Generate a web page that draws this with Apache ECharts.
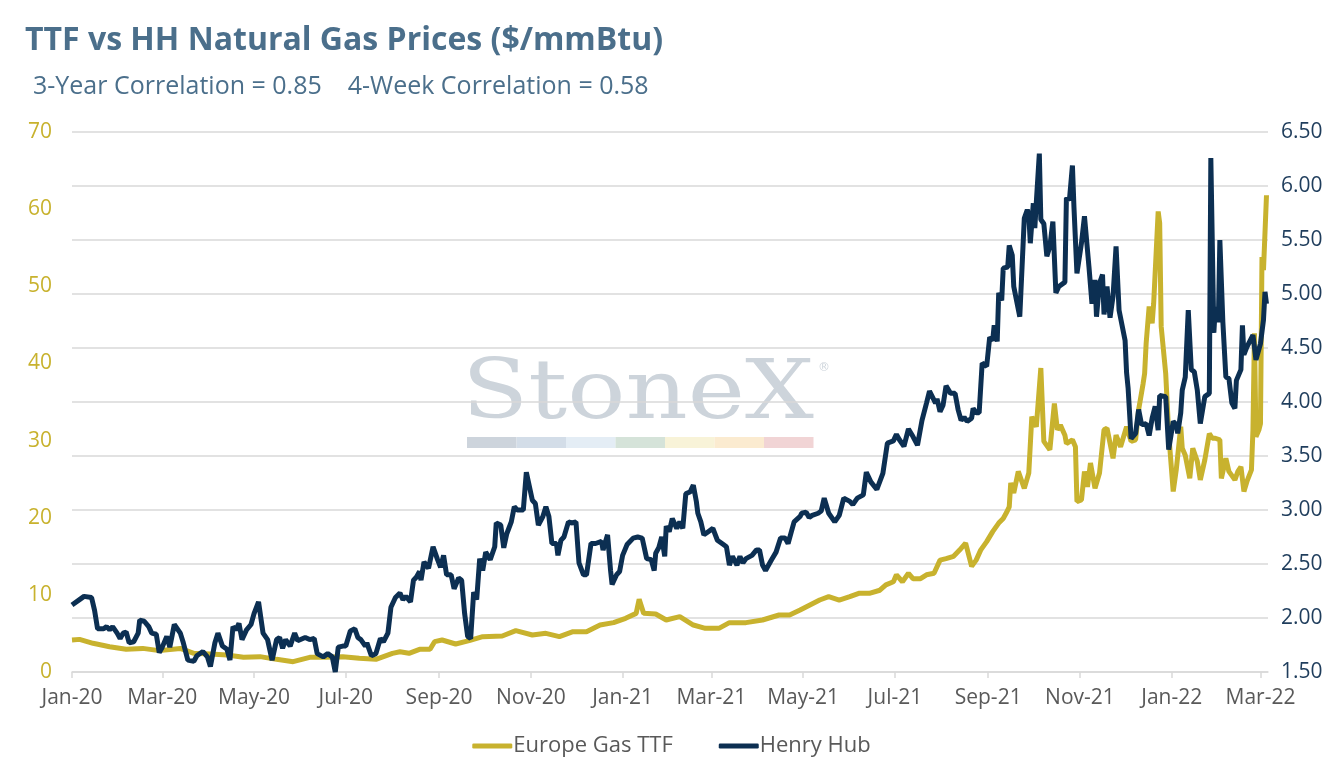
<!DOCTYPE html>
<html>
<head>
<meta charset="utf-8">
<title>TTF vs HH Natural Gas Prices</title>
<script src="https://cdn.jsdelivr.net/npm/echarts@6/dist/echarts.min.js"></script>
<style>
  html, body { margin: 0; padding: 0; background: #fff; }
  #chart { width: 1343px; height: 771px; }
</style>
</head>
<body>
<div id="chart"></div>
<script>
// tick label positions (month starts, every 2 months)
var tickDates = ['2020-01-01','2020-03-01','2020-05-01','2020-07-01','2020-09-01','2020-11-01',
  '2021-01-01','2021-03-01','2021-05-01','2021-07-01','2021-09-01','2021-11-01','2022-01-01','2022-03-01'];
var monthNames = ['Jan','Feb','Mar','Apr','May','Jun','Jul','Aug','Sep','Oct','Nov','Dec'];

// Henry Hub, $/mmBtu (right axis)
var hhDates = ['2020-01-01','2020-01-06','2020-01-09','2020-01-14','2020-01-16','2020-01-18','2020-01-22','2020-01-24','2020-01-26','2020-01-28','2020-01-31',
  '2020-02-02','2020-02-04','2020-02-06','2020-02-08','2020-02-11','2020-02-14','2020-02-15','2020-02-18','2020-02-21','2020-02-23','2020-02-26','2020-02-28',
  '2020-03-01','2020-03-04','2020-03-06','2020-03-09','2020-03-13','2020-03-15','2020-03-18','2020-03-22','2020-03-24','2020-03-28','2020-03-31',
  '2020-04-02','2020-04-05','2020-04-07','2020-04-10','2020-04-13','2020-04-15','2020-04-17','2020-04-19','2020-04-21','2020-04-23','2020-04-26','2020-04-29',
  '2020-05-01','2020-05-04','2020-05-07','2020-05-10','2020-05-13','2020-05-16','2020-05-18','2020-05-20','2020-05-22','2020-05-25','2020-05-28','2020-05-30',
  '2020-06-04','2020-06-07','2020-06-10','2020-06-12','2020-06-16','2020-06-19','2020-06-22','2020-06-24','2020-06-26','2020-06-29',
  '2020-07-01','2020-07-04','2020-07-07','2020-07-09','2020-07-11','2020-07-14','2020-07-15','2020-07-18','2020-07-21','2020-07-24','2020-07-26','2020-07-29','2020-07-31',
  '2020-08-03','2020-08-06','2020-08-08','2020-08-10','2020-08-13','2020-08-15','2020-08-17','2020-08-19','2020-08-20','2020-08-22','2020-08-25','2020-08-28','2020-08-31',
  '2020-09-02','2020-09-04','2020-09-06','2020-09-09','2020-09-11','2020-09-14','2020-09-16','2020-09-18','2020-09-20','2020-09-22','2020-09-24','2020-09-26','2020-09-28','2020-09-30',
  '2020-10-02','2020-10-05','2020-10-08','2020-10-09','2020-10-12','2020-10-14','2020-10-16','2020-10-19','2020-10-21','2020-10-23','2020-10-27','2020-10-29',
  '2020-11-02','2020-11-04','2020-11-06','2020-11-09','2020-11-11','2020-11-13','2020-11-15','2020-11-18','2020-11-19','2020-11-21','2020-11-23','2020-11-26','2020-11-28',
  '2020-12-01','2020-12-03','2020-12-06','2020-12-08','2020-12-11','2020-12-14','2020-12-18','2020-12-19','2020-12-22','2020-12-24','2020-12-25','2020-12-28','2020-12-30',
  '2021-01-01','2021-01-04','2021-01-08','2021-01-11','2021-01-14','2021-01-17','2021-01-20','2021-01-22','2021-01-23','2021-01-25','2021-01-27','2021-01-29','2021-01-30',
  '2021-02-01','2021-02-03','2021-02-06','2021-02-08','2021-02-10','2021-02-12','2021-02-15','2021-02-17','2021-02-19','2021-02-20','2021-02-22','2021-02-24','2021-02-26',
  '2021-03-02','2021-03-05','2021-03-09','2021-03-11','2021-03-13','2021-03-15','2021-03-18','2021-03-20','2021-03-22','2021-03-24','2021-03-28','2021-03-31',
  '2021-04-02','2021-04-04','2021-04-06','2021-04-10','2021-04-13','2021-04-16','2021-04-19','2021-04-21','2021-04-23','2021-04-25','2021-04-29','2021-04-30',
  '2021-05-03','2021-05-05','2021-05-07','2021-05-11','2021-05-13','2021-05-15','2021-05-18','2021-05-22','2021-05-25','2021-05-28',
  '2021-06-01','2021-06-03','2021-06-06','2021-06-10','2021-06-12','2021-06-15','2021-06-19','2021-06-23','2021-06-26','2021-06-30',
  '2021-07-02','2021-07-04','2021-07-07','2021-07-10','2021-07-13','2021-07-16','2021-07-19','2021-07-22','2021-07-24','2021-07-28','2021-07-29','2021-07-31',
  '2021-08-02','2021-08-04','2021-08-07','2021-08-10','2021-08-12','2021-08-14','2021-08-16','2021-08-18','2021-08-21','2021-08-22','2021-08-24','2021-08-26','2021-08-28','2021-08-31',
  '2021-09-02','2021-09-04','2021-09-05','2021-09-07','2021-09-08','2021-09-10','2021-09-11','2021-09-14','2021-09-15','2021-09-17','2021-09-18','2021-09-22','2021-09-23','2021-09-25','2021-09-27','2021-09-28','2021-09-29',
  '2021-10-01','2021-10-02','2021-10-03','2021-10-05','2021-10-06','2021-10-08','2021-10-10','2021-10-12','2021-10-14','2021-10-16','2021-10-18','2021-10-22','2021-10-23','2021-10-25','2021-10-27','2021-10-28','2021-10-30',
  '2021-11-02','2021-11-04','2021-11-07','2021-11-09','2021-11-11','2021-11-12','2021-11-14','2021-11-16','2021-11-17','2021-11-19','2021-11-21','2021-11-23','2021-11-25','2021-11-27',
  '2021-12-01','2021-12-02','2021-12-03','2021-12-05','2021-12-08','2021-12-10','2021-12-12','2021-12-15','2021-12-17','2021-12-19','2021-12-21','2021-12-23','2021-12-24','2021-12-28','2021-12-30',
  '2022-01-02','2022-01-04','2022-01-05','2022-01-07','2022-01-08','2022-01-10','2022-01-12','2022-01-14','2022-01-16','2022-01-18','2022-01-20','2022-01-23','2022-01-26','2022-01-27','2022-01-29','2022-01-30',
  '2022-02-01','2022-02-02','2022-02-04','2022-02-06','2022-02-08','2022-02-10','2022-02-12','2022-02-13','2022-02-16','2022-02-17','2022-02-18','2022-02-20','2022-02-24','2022-02-26',
  '2022-03-01','2022-03-03','2022-03-04','2022-03-05'];
var hhValues = [2.12,2.17,2.20,2.19,2.07,1.90,1.90,1.92,1.89,1.92,1.86,
  1.81,1.86,1.87,1.77,1.78,1.86,1.98,1.97,1.92,1.86,1.85,1.68,
  1.73,1.83,1.73,1.94,1.86,1.77,1.61,1.60,1.65,1.69,1.64,
  1.55,1.77,1.86,1.74,1.71,1.61,1.92,1.89,1.95,1.80,1.89,1.94,
  2.04,2.15,1.86,1.80,1.61,1.80,1.82,1.72,1.80,1.74,1.86,1.79,
  1.82,1.80,1.81,1.67,1.64,1.67,1.64,1.50,1.73,1.74,
  1.74,1.88,1.90,1.82,1.80,1.74,1.77,1.65,1.67,1.81,1.78,1.86,2.10,
  2.19,2.23,2.17,2.20,2.15,2.35,2.38,2.43,2.35,2.52,2.46,2.66,2.54,
  2.47,2.58,2.40,2.40,2.27,2.37,2.35,2.04,1.83,1.81,2.24,2.17,2.55,2.44,
  2.61,2.54,2.66,2.88,2.86,2.65,2.78,2.89,3.03,3.00,3.00,3.35,
  3.09,3.06,2.86,2.94,3.03,2.94,2.69,2.69,2.58,2.72,2.75,2.89,2.88,
  2.89,2.51,2.40,2.40,2.69,2.69,2.71,2.63,2.77,2.44,2.31,2.40,2.43,
  2.58,2.68,2.74,2.75,2.74,2.55,2.54,2.44,2.60,2.65,2.75,2.57,2.85,
  2.80,2.92,2.83,2.89,2.83,3.15,3.17,3.23,3.08,2.97,2.89,2.77,2.79,
  2.83,2.72,2.68,2.66,2.49,2.57,2.49,2.57,2.51,2.55,2.58,2.63,
  2.63,2.49,2.44,2.54,2.61,2.74,2.74,2.69,2.79,2.89,2.94,2.97,
  2.98,2.93,2.95,2.97,2.99,3.11,2.97,2.89,2.95,3.11,
  3.08,3.05,3.11,3.14,3.35,3.26,3.19,3.34,3.62,3.64,
  3.70,3.65,3.59,3.75,3.68,3.60,3.83,3.99,4.10,3.99,4.03,3.91,
  3.97,4.15,4.08,4.08,3.93,3.83,3.86,3.82,3.85,3.94,3.90,3.90,4.36,4.33,
  4.60,4.57,4.71,4.56,5.01,4.94,5.24,5.25,5.45,5.36,5.07,4.79,4.80,5.70,5.78,5.73,5.47,
  5.84,5.61,5.85,6.30,5.69,5.65,5.35,5.44,5.67,5.01,5.07,5.11,5.89,5.87,6.19,5.81,5.19,
  5.47,5.72,5.25,4.91,5.13,4.79,5.10,5.18,4.81,5.07,4.78,4.98,5.44,4.85,
  4.57,4.27,4.13,3.66,3.71,3.93,3.79,3.80,3.69,3.85,3.96,3.74,4.06,4.05,3.56,
  3.82,3.79,3.71,3.90,4.11,4.23,4.85,4.30,4.28,4.11,3.80,4.05,4.08,6.26,4.64,4.88,
  4.74,5.50,4.74,4.23,4.22,3.99,3.94,4.20,4.30,4.71,4.44,4.51,4.62,4.39,
  4.54,4.76,5.02,4.91];

// Europe Gas TTF, $/mmBtu (left axis)
var ttfDates = ['2020-01-01','2020-01-06','2020-01-15','2020-01-26','2020-02-06','2020-02-17','2020-02-28','2020-03-13','2020-03-22',
  '2020-04-02','2020-04-13','2020-04-24','2020-05-05','2020-05-16','2020-05-27','2020-06-07','2020-06-18','2020-06-29',
  '2020-07-10','2020-07-21','2020-08-01','2020-08-06','2020-08-12','2020-08-19','2020-08-26','2020-08-29',
  '2020-09-03','2020-09-12','2020-09-21','2020-09-30','2020-10-13','2020-10-22','2020-11-02','2020-11-11','2020-11-20','2020-11-29',
  '2020-12-08','2020-12-17','2020-12-26','2021-01-03','2021-01-10','2021-01-12','2021-01-15','2021-01-23','2021-01-30',
  '2021-02-08','2021-02-17','2021-02-25','2021-03-06','2021-03-13','2021-03-24','2021-04-04','2021-04-15','2021-04-22','2021-04-29',
  '2021-05-12','2021-05-18','2021-05-25','2021-06-01','2021-06-07','2021-06-14','2021-06-21','2021-06-25','2021-06-30',
  '2021-07-02','2021-07-06','2021-07-10','2021-07-13','2021-07-18','2021-07-22','2021-07-27','2021-07-31',
  '2021-08-04','2021-08-09','2021-08-13','2021-08-17','2021-08-21','2021-08-24','2021-08-27','2021-08-31',
  '2021-09-04','2021-09-08','2021-09-11','2021-09-13','2021-09-15','2021-09-16','2021-09-18','2021-09-21','2021-09-25','2021-09-28','2021-09-30',
  '2021-10-03','2021-10-06','2021-10-08','2021-10-12','2021-10-15','2021-10-17','2021-10-19','2021-10-22','2021-10-23','2021-10-27','2021-10-29','2021-10-30',
  '2021-11-02','2021-11-04','2021-11-06','2021-11-08','2021-11-11','2021-11-14','2021-11-17','2021-11-19','2021-11-23','2021-11-25','2021-11-28',
  '2021-12-02','2021-12-05','2021-12-08','2021-12-10','2021-12-13','2021-12-14','2021-12-15','2021-12-17','2021-12-19','2021-12-20','2021-12-23','2021-12-24','2021-12-25','2021-12-28','2021-12-30',
  '2022-01-02','2022-01-04','2022-01-07','2022-01-08','2022-01-10','2022-01-13','2022-01-15','2022-01-18','2022-01-20','2022-01-23','2022-01-26','2022-01-28','2022-01-30',
  '2022-02-02','2022-02-03','2022-02-06','2022-02-08','2022-02-12','2022-02-14','2022-02-16','2022-02-18','2022-02-20','2022-02-23','2022-02-24','2022-02-25','2022-02-26','2022-02-28',
  '2022-03-01','2022-03-02','2022-03-03','2022-03-05'];
var ttfValues = [4.15,4.23,3.72,3.28,2.94,3.06,2.77,3.06,2.42,
  2.33,2.20,1.90,1.99,1.64,1.34,1.90,1.90,1.99,
  1.77,1.64,2.42,2.63,2.42,2.94,2.94,3.93,
  4.15,3.63,4.06,4.58,4.67,5.36,4.80,5.01,4.58,5.23,
  5.23,6.09,6.40,6.96,7.60,9.42,7.60,7.52,6.74,
  7.17,6.09,5.66,5.66,6.40,6.40,6.74,7.39,7.39,8.04,
  9.33,9.76,9.33,9.76,10.2,10.2,10.6,11.3,11.7,
  12.6,11.7,12.8,12.1,12.1,12.6,12.8,14.5,
  14.7,15.0,15.8,16.7,13.7,14.5,15.8,16.9,
  18.2,19.3,19.9,20.6,21.4,24.5,23.2,26.0,23.8,25.8,33.1,
  31.8,39.4,29.9,28.8,34.8,31.4,32.0,30.7,29.6,30.1,29.2,22.1,
  22.3,26.0,24.0,27.1,23.8,25.8,31.4,31.6,27.7,30.7,29.2,
  31.8,29.9,30.1,34.0,37.4,38.7,42.6,47.4,45.2,47.8,59.7,58.2,44.8,38.7,30.9,
  23.4,26.2,31.8,29.0,28.1,25.1,29.0,27.3,24.9,27.5,30.9,30.3,30.3,
  30.1,25.1,27.7,26.0,24.9,26.0,26.6,23.4,24.7,26.2,31.4,43.9,30.5,31.4,
  32.2,53.8,52.1,61.8];

function toTime(s) {
  var p = s.split('-');
  return Date.UTC(+p[0], +p[1] - 1, +p[2]);
}
function zip(dates, values) {
  return dates.map(function (d, i) { return [toTime(d), values[i]]; });
}

var titleColor = '#4b6f8b';
var ttfColor = '#c8b22e';
var hhColor = '#0c2f52';
var labelGrey = '#595959';
var baseFont = '"Open Sans", sans-serif';
var tickTimes = tickDates.map(toTime);

var chart = echarts.init(document.getElementById('chart'));
var option = {
  animation: false,
  backgroundColor: '#ffffff',
  textStyle: { fontFamily: baseFont },
  title: [{
    text: 'TTF vs HH Natural Gas Prices ($/mmBtu)',
    left: 20, top: 20,
    textStyle: { color: titleColor, fontSize: 32, fontWeight: 'bold', fontFamily: baseFont }
  }, {
    text: '3-Year Correlation = 0.85    4-Week Correlation = 0.58',
    left: 28, top: 69,
    textStyle: { color: titleColor, fontSize: 25, fontWeight: 'normal', fontFamily: baseFont }
  }],
  graphic: [{
    type: 'text', left: 462, top: 356, z: -10, scaleX: 1.18,
    style: { text: 'StoneX', fill: '#cdd4db', font: '82px "DejaVu Serif", serif' }
  }, {
    type: 'text', left: 818, top: 362, z: -10,
    style: { text: '®', fill: '#cdd4db', font: '12px "DejaVu Sans", sans-serif' }
  }, {
    type: 'group', left: 467, top: 437, z: -10,
    children: ['#cdd4dc', '#d3dde8', '#e4edf5', '#d5e3d9', '#f8f3d8', '#fbebd0', '#f1d4d5'].map(function (c, i) {
      return { type: 'rect', shape: { x: i * 49.5, y: 0, width: 49.5, height: 11 }, style: { fill: c }, z: -10 };
    })
  }],
  legend: {
    left: 'center', top: 730,
    itemWidth: 40, itemHeight: 5, itemGap: 46,
    icon: 'roundRect',
    textStyle: { color: labelGrey, fontSize: 22, padding: [0, 0, 0, -4] },
    data: ['Europe Gas TTF', 'Henry Hub']
  },
  grid: { left: 72, right: 75, top: 132, bottom: 99 },
  xAxis: {
    type: 'value',
    min: toTime('2020-01-01'),
    max: toTime('2022-03-06'),
    axisLine: { lineStyle: { color: '#d9d9d9', width: 1.5 } },
    axisTick: { show: true, length: 6, customValues: tickTimes, lineStyle: { color: '#d9d9d9', width: 1.5 } },
    splitLine: { show: false },
    axisLabel: {
      customValues: tickTimes,
      color: labelGrey, fontSize: 21, margin: 16,
      formatter: function (v) {
        var d = new Date(v);
        return monthNames[d.getUTCMonth()] + '-' + String(d.getUTCFullYear()).slice(2);
      }
    }
  },
  yAxis: [{
    type: 'value', position: 'left',
    min: 0, max: 70, interval: 10,
    axisLine: { show: false }, axisTick: { show: false },
    splitLine: { show: false },
    axisLabel: { color: ttfColor, fontSize: 21, margin: 20 }
  }, {
    type: 'value', position: 'right',
    min: 1.5, max: 6.5, interval: 0.5,
    axisLine: { show: false }, axisTick: { show: false },
    splitLine: { show: true, lineStyle: { color: '#d9d9d9', width: 1.5 } },
    axisLabel: { color: '#1f3d5c', fontSize: 21, margin: 13, formatter: function (v) { return v.toFixed(2); } }
  }],
  series: [{
    name: 'Europe Gas TTF',
    type: 'line', yAxisIndex: 0,
    showSymbol: false, symbol: 'none',
    lineStyle: { color: ttfColor, width: 5 },
    itemStyle: { color: ttfColor },
    data: zip(ttfDates, ttfValues)
  }, {
    name: 'Henry Hub',
    type: 'line', yAxisIndex: 1,
    showSymbol: false, symbol: 'none',
    lineStyle: { color: hhColor, width: 5 },
    itemStyle: { color: hhColor },
    data: zip(hhDates, hhValues)
  }]
};
chart.setOption(option);
</script>
</body>
</html>
